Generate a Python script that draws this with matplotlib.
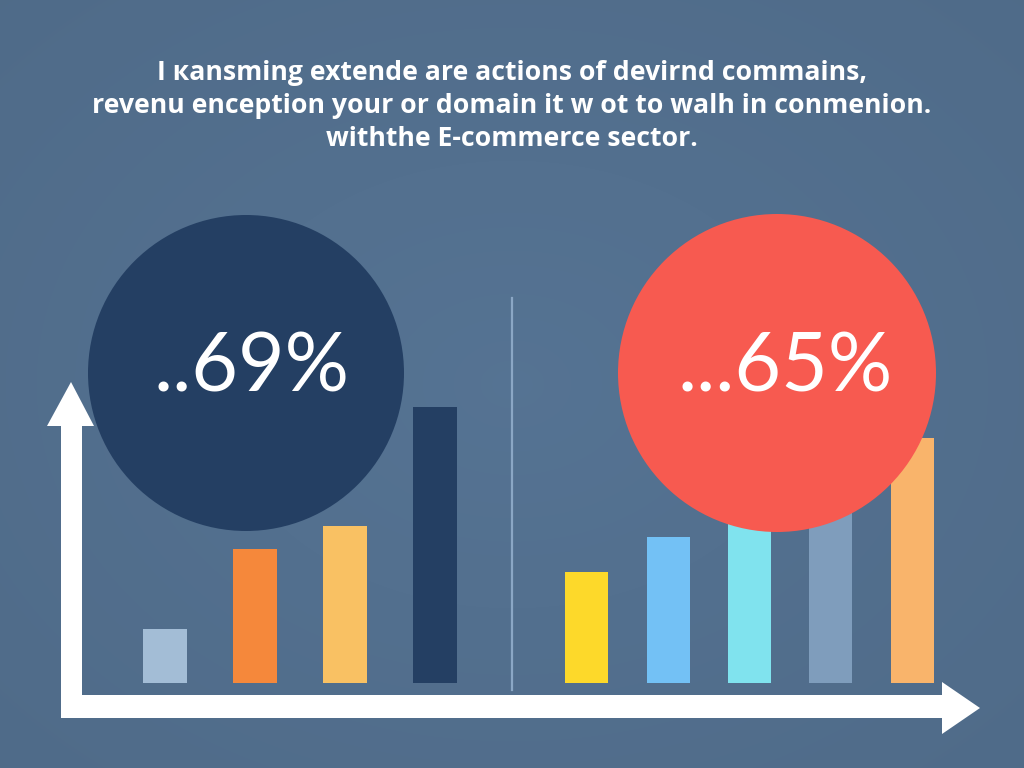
import matplotlib
matplotlib.use("Agg")
import matplotlib.pyplot as plt
import numpy as np
from matplotlib.patches import Circle, Polygon

# データ
title_lines = [
    "I \u043aansming extende are actions of devirnd commains,",
    "revenu enception your or domain it w ot to walh in conmenion.",
    "withthe E-commerce sector.",
]
left_values = [14, 35, 41, 72]
left_colors = ["#a3bdd6", "#f5883b", "#f9c163", "#243f63"]
right_values = [29, 38, 43, 47, 64]
right_colors = ["#fdd92a", "#73c1f5", "#80e3ee", "#7f9dbc", "#f9b46b"]
left_label = "..69%"
right_label = "...65%"

BG = "#53708f"
W, H = 1024, 768

fig = plt.figure(figsize=(10.24, 7.68), dpi=100)
fig.patch.set_facecolor(BG)

# 背景 (ゆるいグラデーション)
bg = fig.add_axes([0, 0, 1, 1], zorder=0)
yy, xx = np.mgrid[0:H, 0:W]
r = np.hypot((xx - W / 2) / W, (yy - H / 2) / H)
shade = 1.0 - 0.10 * r
base = np.array(matplotlib.colors.to_rgb(BG))
img = np.clip(base[None, None, :] * shade[:, :, None] * 1.03, 0, 1)
bg.imshow(img, extent=(0, W, H, 0), aspect="auto")
bg.set_xlim(0, W)
bg.set_ylim(H, 0)
bg.axis("off")


def px_axes(x0, x1, y_top, y_base, z):
    # ピクセル位置 -> figure 座標
    return fig.add_axes([x0 / W, 1 - y_base / H, (x1 - x0) / W, (y_base - y_top) / H], zorder=z)


# 棒グラフ (左)
axl = px_axes(120, 480, 300, 683, 1)
axl.bar(range(len(left_values)), left_values, width=0.49, color=left_colors)
axl.set_xlim(-0.5, len(left_values) - 0.5)
axl.set_ylim(0, 100)
axl.axis("off")

# 棒グラフ (右)
axr = px_axes(546, 953, 300, 683, 1)
axr.bar(range(len(right_values)), right_values, width=0.53, color=right_colors)
axr.set_xlim(-0.5, len(right_values) - 0.5)
axr.set_ylim(0, 100)
axr.axis("off")

# 上のレイヤー: 円, 矢印, テキスト
ov = fig.add_axes([0, 0, 1, 1], zorder=2)
ov.set_xlim(0, W)
ov.set_ylim(H, 0)
ov.axis("off")
ov.patch.set_alpha(0)

ov.add_patch(Circle((246, 373), 158, color="#243f63", lw=0))
ov.add_patch(Circle((777, 373), 159, color="#f75a50", lw=0))

ov.text(251, 368, left_label, color="white", fontsize=58, family="Lato",
        ha="center", va="center")
ov.text(785, 368, right_label, color="white", fontsize=58, family="Lato",
        ha="center", va="center")

# 中央の区切り線
ov.plot([512, 512], [298, 690], color="#8ba7c5", lw=1.6)

# 矢印
white = "#ffffff"
ov.add_patch(Polygon([(61, 718), (61, 426), (47, 426), (71, 382), (94, 426),
                      (82, 426), (82, 695), (61, 718)], closed=True, color=white, lw=0))
ov.add_patch(Polygon([(61, 695), (942, 695), (942, 682), (980, 708), (942, 734),
                      (942, 718), (61, 718)], closed=True, color=white, lw=0))

# タイトル
for i, line in enumerate(title_lines):
    ov.text(512, 73 + i * 33, line, color="white", fontsize=19.2,
            family=["Open Sans", "DejaVu Sans"], weight="bold",
            ha="center", va="center")

fig.savefig("out.png", dpi=100, facecolor=BG)
